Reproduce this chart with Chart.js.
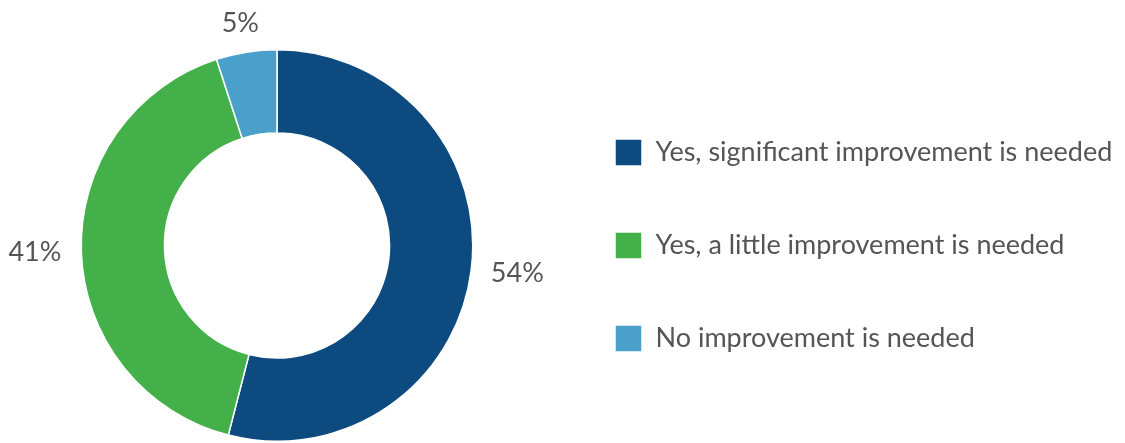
<!DOCTYPE html>
<html>
<head>
<meta charset="utf-8">
<script src="https://cdn.jsdelivr.net/npm/chart.js@4.4.0/dist/chart.umd.min.js"></script>
<style>
  html, body { margin: 0; padding: 0; background: #fff; }
  #wrap { width: 1125px; height: 443px; }
</style>
</head>
<body>
<div id="wrap"><canvas id="myChart"></canvas></div>
<script>
var labels = ['Yes, significant improvement is needed', 'Yes, a little improvement is needed', 'No improvement is needed'];
var values = [54, 41, 5];
var colors = ['#0d4a80', '#43b049', '#4a9fcb'];
var valueLabels = values.map(function (v) { return v + '%'; });

var textColor = '#555555';
var fontFamily = 'Lato, "Open Sans", sans-serif';
var LEGEND_W = 576;

// force the legend box width so the ring sits where it should
var legendWidth = {
  id: 'legendWidth',
  beforeLayout: function (chart) {
    var lg = chart.legend;
    if (lg && !lg._fixedW) {
      var fit = lg.fit;
      lg.fit = function () {
        fit.call(this);
        this.width = LEGEND_W;
      };
      lg._fixedW = true;
    }
  }
};

// percent labels outside each slice
var outLabels = {
  id: 'outLabels',
  afterDatasetsDraw: function (chart) {
    var ctx = chart.ctx;
    var meta = chart.getDatasetMeta(0);
    ctx.save();
    ctx.font = '27px ' + fontFamily;
    ctx.fillStyle = textColor;
    ctx.textAlign = 'center';
    ctx.textBaseline = 'middle';
    meta.data.forEach(function (arc, i) {
      var p = arc.getProps(['x', 'y', 'startAngle', 'endAngle', 'outerRadius'], true);
      var mid = (p.startAngle + p.endAngle) / 2;
      var r = p.outerRadius + 20;
      var w = ctx.measureText(valueLabels[i]).width;
      var h = 18;
      var x = p.x + r * Math.cos(mid) + (w / 2) * Math.cos(mid);
      var y = p.y + r * Math.sin(mid) + (h / 2) * Math.sin(mid);
      ctx.fillText(valueLabels[i], x, y);
    });
    ctx.restore();
  }
};

var ctx = document.getElementById('myChart');
var myChart = new Chart(ctx, {
  type: 'doughnut',
  data: {
    labels: labels,
    datasets: [{
      data: values,
      backgroundColor: colors,
      borderColor: '#ffffff',
      borderWidth: 1.5,
      hoverOffset: 0
    }]
  },
  options: {
    responsive: true,
    maintainAspectRatio: false,
    animation: false,
    cutout: '57.5%',
    layout: { padding: { top: 49, bottom: 1, left: 5, right: 0 } },
    plugins: {
      tooltip: { enabled: false },
      legend: {
        position: 'right',
        align: 'center',
        labels: {
          boxWidth: 27,
          boxHeight: 27,
          padding: 66,
          color: textColor,
          font: { family: fontFamily, size: 27 }
        }
      }
    }
  },
  plugins: [legendWidth, outLabels]
});
</script>
</body>
</html>
